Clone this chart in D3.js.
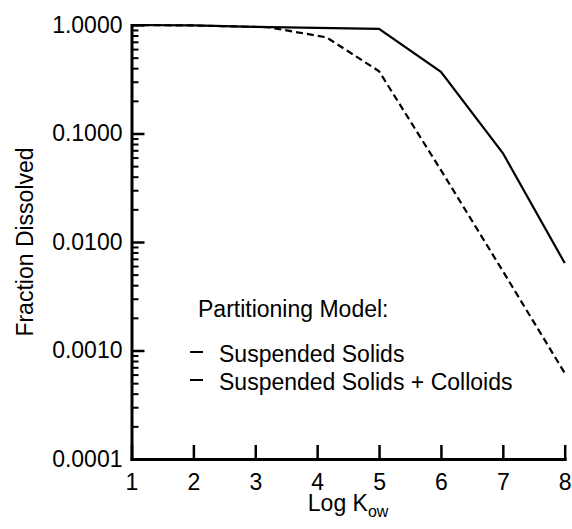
<!DOCTYPE html>
<html>
<head>
<meta charset="utf-8">
<script src="https://cdn.jsdelivr.net/npm/d3@7"></script>
<style>
  body { margin: 0; background: #fff; }
  text { font-family: "Liberation Sans", Arial, sans-serif; fill: #000; font-weight: normal; }
  .axis path, .axis line { stroke: #000; }
</style>
</head>
<body>
<div class="container"></div>
<script>
const WIDTH = 572;
const HEIGHT = 529;
const LEFT = 131.5;
const RIGHT = 564.7;
const TOP = 25;
const BOTTOM = 459;
const FONT = 23;

// log Kow on the x axis
var kow = [1, 2, 3, 4, 5, 6, 7, 8];
var solidsFraction = [1.0, 0.99, 0.96, 0.94, 0.92, 0.37, 0.066, 0.0064];

var colloidKow = [1, 2, 3.2, 4.15, 5, 6, 7, 8];
var colloidFraction = [1.0, 0.99, 0.955, 0.77, 0.375, 0.046, 0.0054, 0.00062];

var yMajor = [0.0001, 0.001, 0.01, 0.1, 1];
var legendTitle = "Partitioning Model:";
var legendNames = ["Suspended Solids", "Suspended Solids + Colloids"];

var xScale = d3.scaleLinear()
    .domain([1, 8])
    .range([LEFT, RIGHT]);

var yScale = d3.scaleLog()
    .domain([0.0001, 1])
    .range([BOTTOM, TOP]);

var yMinor = [];
yMajor.slice(0, -1).forEach(function (d) {
    for (var k = 2; k <= 9; k++) yMinor.push(d * k);
});

var svg = d3.select('.container').append('svg')
    .attr('width', WIDTH)
    .attr('height', HEIGHT);

// minor ticks first so the main axis sits on top
svg.append('g')
    .attr('class', 'axis')
    .attr('transform', 'translate(' + LEFT + ',0)')
    .call(d3.axisLeft(yScale).tickValues(yMinor).tickSize(-7).tickFormat(''))
    .call(function (g) { g.select('.domain').remove(); })
    .selectAll('line').attr('stroke-width', 2);

var yAxis = svg.append('g')
    .attr('class', 'axis')
    .attr('transform', 'translate(' + LEFT + ',0)')
    .call(d3.axisLeft(yScale)
        .tickValues(yMajor)
        .tickSize(-13)
        .tickSizeOuter(0)
        .tickPadding(9)
        .tickFormat(d3.format('.4f')));

var xAxis = svg.append('g')
    .attr('class', 'axis')
    .attr('transform', 'translate(0,' + BOTTOM + ')')
    .call(d3.axisBottom(xScale)
        .tickValues(kow)
        .tickSize(-14)
        .tickSizeOuter(0)
        .tickPadding(15)
        .tickFormat(d3.format('d')));

[yAxis, xAxis].forEach(function (g) {
    g.select('.domain').attr('stroke-width', 3).attr('stroke-linecap', 'square');
    g.selectAll('.tick line').attr('stroke-width', 2.5);
    g.selectAll('.tick text')
        .style('font-size', FONT + 'px')
        .style('font-family', '"Liberation Sans", Arial, sans-serif');
});

var line = d3.line()
    .x(function (d) { return xScale(d[0]); })
    .y(function (d) { return yScale(d[1]); });

svg.append('path')
    .attr('d', line(d3.zip(colloidKow, colloidFraction)))
    .attr('fill', 'none')
    .attr('stroke', '#000')
    .attr('stroke-width', 2.2)
    .attr('stroke-dasharray', '7,4');

svg.append('path')
    .attr('d', line(d3.zip(kow, solidsFraction)))
    .attr('fill', 'none')
    .attr('stroke', '#000')
    .attr('stroke-width', 2.2);

// axis titles
svg.append('text')
    .attr('transform', 'translate(33,' + ((TOP + BOTTOM) / 2) + ') rotate(-90)')
    .attr('text-anchor', 'middle')
    .style('font-size', FONT + 'px')
    .text('Fraction Dissolved');

var xTitle = svg.append('text')
    .attr('x', (LEFT + RIGHT) / 2)
    .attr('y', 511)
    .attr('text-anchor', 'middle')
    .style('font-size', FONT + 'px');
xTitle.append('tspan').text('Log K');
xTitle.append('tspan')
    .attr('dy', 6)
    .style('font-size', '16px')
    .text('ow');

// legend
var legend = svg.append('g');
legend.append('text')
    .attr('x', 198)
    .attr('y', 317)
    .style('font-size', FONT + 'px')
    .text(legendTitle);

var rows = legend.selectAll('.row').data(legendNames)
    .enter().append('g')
    .attr('class', 'row')
    .attr('transform', function (d, i) { return 'translate(190,' + (362 + i * 28) + ')'; });

rows.append('line')
    .attr('x1', 0).attr('x2', 13)
    .attr('y1', -10).attr('y2', -10)
    .attr('stroke', '#000')
    .attr('stroke-width', 2);

rows.append('text')
    .attr('x', 29)
    .style('font-size', FONT + 'px')
    .text(function (d) { return d; });
</script>
</body>
</html>
